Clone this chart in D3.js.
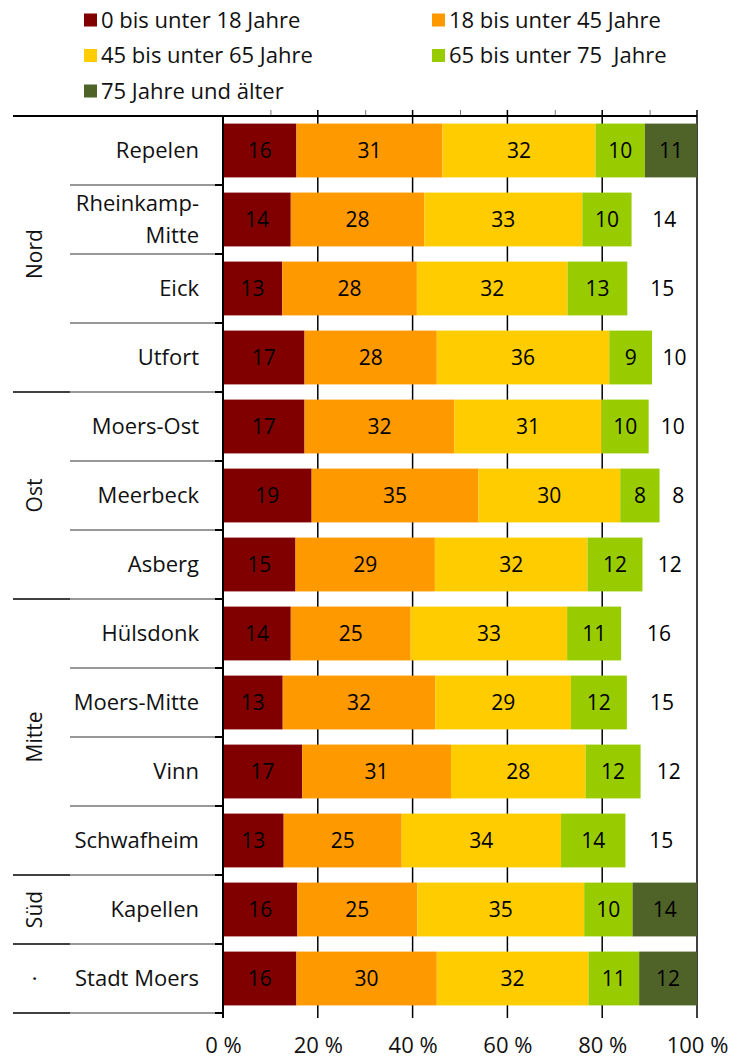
<!DOCTYPE html>
<html>
<head>
<meta charset="utf-8">
<script src="https://cdn.jsdelivr.net/npm/d3@7"></script>
<style>
  body { margin: 0; background: #fff; }
  svg { display: block; font-family: "Open Sans", sans-serif; }
</style>
</head>
<body>
<svg id="chart" width="737" height="1059"></svg>
<script>
const districts = ["Repelen", "Rheinkamp-Mitte", "Eick", "Utfort", "Moers-Ost", "Meerbeck", "Asberg",
    "Hülsdonk", "Moers-Mitte", "Vinn", "Schwafheim", "Kapellen", "Stadt Moers"];
const ageGroups = ["0 bis unter 18 Jahre", "18 bis unter 45 Jahre", "45 bis unter 65 Jahre",
    "65 bis unter 75  Jahre", "75 Jahre und älter"];
const colors = ["#800000", "#FF9900", "#FFCC00", "#99CC00", "#4F6228"];

// Anteile in %
const under18 = [15.5, 14.3, 12.5, 17.2, 17.2, 18.7, 15.3, 14.3, 12.6, 16.7, 12.8, 15.7, 15.5];
const age18to45 = [30.8, 28.2, 28.4, 27.9, 31.6, 35.2, 29.4, 25.3, 32.2, 31.4, 24.9, 25.3, 29.6];
const age45to65 = [32.3, 33.3, 31.8, 36.4, 31.1, 29.9, 32.2, 33.0, 28.6, 28.4, 33.6, 35.2, 32.0];
const age65to75 = [10.4, 10.4, 12.6, 9.0, 9.9, 8.3, 11.6, 11.4, 11.8, 11.6, 13.6, 10.2, 10.7];
const age75plus = [11.0, 13.8, 14.7, 9.5, 10.2, 7.9, 11.5, 16.0, 14.8, 11.9, 15.1, 13.6, 12.2];
// only these rows show the last segment in colour
const oldFilled = [true, false, false, false, false, false, false, false, false, false, false, true, true];

const regionNames = ["Nord", "Ost", "Mitte", "Süd", "·"];
const regionSizes = [4, 3, 4, 1, 1];
const xTicks = [0, 20, 40, 60, 80, 100];

const series = [under18, age18to45, age45to65, age65to75, age75plus];
const rows = districts.map((name, i) => {
    const r = { name };
    ageGroups.forEach((g, k) => (r[g] = series[k][i]));
    return r;
});

const svg = d3.select("#chart");
const plotTop = 116, plotBottom = 1013, plotLeft = 223, plotRight = 697;

const x = d3.scaleLinear().domain([0, 100]).range([plotLeft, plotRight]);
const y = d3.scaleBand().domain(districts).range([plotTop, plotBottom]).paddingInner(0.22).paddingOuter(0.11);
const color = d3.scaleOrdinal().domain(ageGroups).range(colors);

// legend
const legend = svg.append("g");
ageGroups.forEach((g, i) => {
    const lx = i % 2 === 0 ? 84 : 432;
    const ly = 20 + Math.floor(i / 2) * 35.5;
    legend.append("rect").attr("x", lx).attr("y", ly - 6.5).attr("width", 13).attr("height", 13).attr("fill", colors[i]);
    legend.append("text").attr("x", lx + 17).attr("y", ly).attr("dy", "0.35em")
        .style("white-space", "pre")
        .attr("font-size", 22).attr("fill", "#111").text(g);
});

// gridlines + minor ticks at the top
svg.append("g")
    .selectAll("line")
    .data([20, 40, 60, 80, 100])
    .join("line")
    .attr("x1", (d) => x(d)).attr("x2", (d) => x(d))
    .attr("y1", plotTop - 6).attr("y2", plotBottom + 5)
    .attr("stroke", "#000").attr("stroke-width", 1.5);

svg.append("g")
    .attr("transform", `translate(0,${plotTop})`)
    .call(d3.axisTop(x).tickValues([10, 30, 50, 70, 90]).tickSize(6).tickFormat(""))
    .call((g) => g.select(".domain").remove())
    .selectAll("line").attr("stroke", "#777");

// bars
const stacked = d3.stack().keys(ageGroups)(rows);
const layers = svg.append("g").selectAll("g")
    .data(stacked)
    .join("g");

layers.selectAll("rect")
    .data((s) => s.map((d, i) => ({ key: s.key, k: ageGroups.indexOf(s.key), i, d })))
    .join("rect")
    .attr("x", (e) => x(e.d[0]))
    .attr("y", (e) => y(e.d.data.name))
    .attr("width", (e) => x(Math.min(100, e.d[1])) - x(e.d[0]))
    .attr("height", y.bandwidth())
    .attr("fill", (e) => (e.k === 4 && !oldFilled[e.i] ? "none" : color(e.key)));

layers.selectAll("text")
    .data((s) => s.map((d) => ({ key: s.key, d })))
    .join("text")
    .attr("x", (e) => (x(e.d[0]) + x(Math.min(100, e.d[1]))) / 2)
    .attr("y", (e) => y(e.d.data.name) + y.bandwidth() / 2)
    .attr("dy", "0.36em")
    .attr("text-anchor", "middle")
    .attr("font-size", 21)
    .attr("fill", "#000")
    .text((e) => Math.round(e.d.data[e.key]));

// top line
svg.append("line").attr("x1", 13).attr("x2", plotRight).attr("y1", plotTop).attr("y2", plotTop)
    .attr("stroke", "#000").attr("stroke-width", 2);

// row separators in label column
const step = y.step();
svg.append("g")
    .selectAll("line")
    .data(d3.range(1, districts.length + 1))
    .join("line")
    .attr("x1", 70).attr("x2", plotLeft)
    .attr("y1", (i) => plotTop + i * step).attr("y2", (i) => plotTop + i * step)
    .attr("stroke", "#333").attr("stroke-width", 1.2);

svg.append("g")
    .selectAll("line")
    .data(d3.range(1, districts.length + 1))
    .join("line")
    .attr("x1", plotLeft - 8).attr("x2", plotLeft)
    .attr("y1", (i) => plotTop + i * step).attr("y2", (i) => plotTop + i * step)
    .attr("stroke", "#000").attr("stroke-width", 2);

// region separators and names
let start = 0;
regionNames.forEach((name, r) => {
    const end = start + regionSizes[r];
    svg.append("line").attr("x1", 13).attr("x2", 70)
        .attr("y1", plotTop + end * step).attr("y2", plotTop + end * step)
        .attr("stroke", "#000").attr("stroke-width", 1.5);
    const cy = plotTop + ((start + end) / 2) * step;
    svg.append("text")
        .attr("transform", `translate(35,${cy}) rotate(-90)`)
        .attr("dy", "0.35em")
        .attr("text-anchor", "middle")
        .attr("font-size", 21)
        .attr("fill", "#111")
        .text(name);
    start = end;
});

// left axis with district labels
svg.append("g")
    .attr("transform", `translate(${plotLeft},0)`)
    .call(d3.axisLeft(y).tickSize(0).tickPadding(24))
    .call((g) => g.select(".domain").remove())
    .selectAll("text")
    .attr("font-size", 22)
    .attr("font-family", "Open Sans, sans-serif")
    .attr("fill", "#111")
    .each(function (d) {
        if (d === "Rheinkamp-Mitte") {
            const t = d3.select(this).text(null).attr("dy", null);
            t.append("tspan").attr("x", -24).attr("dy", "-0.4em").text("Rheinkamp-");
            t.append("tspan").attr("x", -24).attr("dy", "1.45em").text("Mitte");
        }
    });

svg.append("line").attr("x1", plotLeft).attr("x2", plotLeft).attr("y1", plotTop).attr("y2", plotBottom + 5)
    .attr("stroke", "#000").attr("stroke-width", 2);

// bottom axis labels
svg.append("g")
    .attr("transform", `translate(0,${plotBottom})`)
    .call(d3.axisBottom(x).tickValues(xTicks).tickSize(0).tickPadding(24).tickFormat((d) => d + " %"))
    .call((g) => g.select(".domain").remove())
    .selectAll("text")
    .attr("font-size", 22)
    .attr("font-family", "Open Sans, sans-serif")
    .attr("fill", "#111");
</script>
</body>
</html>
